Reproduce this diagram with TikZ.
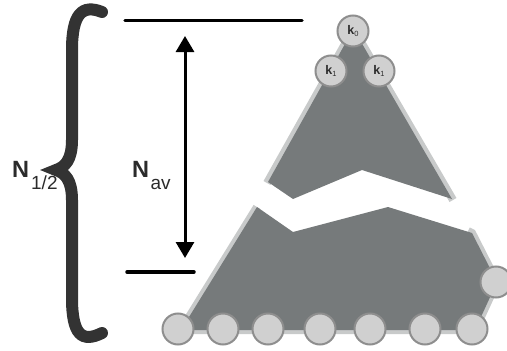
\documentclass[tikz,border=0pt]{standalone}
\usepackage{fontspec}
\setmainfont{Liberation Sans}
\usetikzlibrary{arrows.meta}
\definecolor{shapedark}{HTML}{767A7B}
\definecolor{shapelight}{HTML}{C8CACA}
\definecolor{ballfill}{HTML}{D0D0D0}
\definecolor{balledge}{HTML}{8E8E8E}
\definecolor{bracegray}{HTML}{333333}
\definecolor{labelgray}{HTML}{2B2B2B}
\tikzset{
  ball/.style={circle, fill=ballfill, draw=balledge, line width=2pt,
    minimum size=31pt, inner sep=0pt, text=labelgray},
  rim/.style={draw=shapelight, line width=8pt, line join=miter},
  body/.style={fill=shapedark},
  level/.style={draw=black, line width=3.5pt, line cap=round},
  span/.style={draw=black, line width=3pt,
    {Triangle[width=18pt,length=16pt]}-{Triangle[width=18pt,length=16pt]}},
  bigN/.style={anchor=base west, inner sep=0pt, text=labelgray,
    font=\fontsize{23.5}{23.5}\selectfont\bfseries},
}
\newcommand{\kball}[1]{\fontsize{12.5}{12.5}\selectfont\textbf{k}\raisebox{-2pt}{\fontsize{7.5}{7.5}\selectfont #1}}
\newcommand{\subtxt}[1]{\raisebox{-12.5pt}{\normalfont\fontsize{19}{19}\selectfont #1}}
\begin{document}
\begin{tikzpicture}[x=1pt, y=-1pt]
  \useasboundingbox (0,0) rectangle (507,351);
  \clip (0,0) rectangle (507,351);

  % curly brace on the left
  \draw[bracegray, line width=12pt, line cap=round]
    (102,12) .. controls (82,4) and (72,14) .. (72,50)
    -- (72,140) .. controls (72,160) and (65,167) .. (56,170)
    .. controls (65,173) and (72,180) .. (72,200)
    -- (72,298) .. controls (72,335) and (82,343) .. (102,333);

  % level lines and the double arrow
  \coordinate (topL) at (125,20.5);
  \coordinate (topR) at (302,20.5);
  \coordinate (botL) at (127,272);
  \coordinate (botR) at (194,272);
  \coordinate (arrT) at (185,36);
  \coordinate (arrB) at (185,258);
  \draw[level] (topL) -- (topR);
  \draw[level] (botL) -- (botR);
  \draw[span] (arrT) -- (arrB);

  % labels
  \node[bigN] (nhalf) at (12,177) {N\kern2pt\subtxt{1/2}};
  \node[bigN] (nav) at (132,177) {N\kern1.5pt\subtxt{av}};

  % upper piece of the broken cone
  \draw[rim] (453,200) -- (357,35) -- (350,35) -- (267,183);
  \fill[body] (350,35) -- (357,35) -- (452,199) -- (362,170)
    -- (293,199) -- (268,182) -- cycle;

  % lower piece
  \draw[rim] (468,231) -- (472,233) -- (497,282) -- (475,330)
    -- (181,330) -- (257,207);
  \fill[body] (257,207) -- (293,232) -- (388,207) -- (472,233)
    -- (497,282) -- (475,330) -- (181,330) -- cycle;

  % balls at the tip
  \node[ball] (k0) at (353,31) {\kball{0}};
  \node[ball] (k1a) at (331,71) {\kball{1}};
  \node[ball] (k1b) at (379,71) {\kball{1}};

  % balls along the base
  \node[ball] (b1) at (178,329) {};
  \node[ball] (b2) at (223,329) {};
  \node[ball] (b3) at (268,329) {};
  \node[ball] (b4) at (320,329) {};
  \node[ball] (b5) at (370,329) {};
  \node[ball] (b6) at (425,329) {};
  \node[ball] (b7) at (472,329) {};
  \node[ball] (r1) at (496,282) {};
\end{tikzpicture}
\end{document}
